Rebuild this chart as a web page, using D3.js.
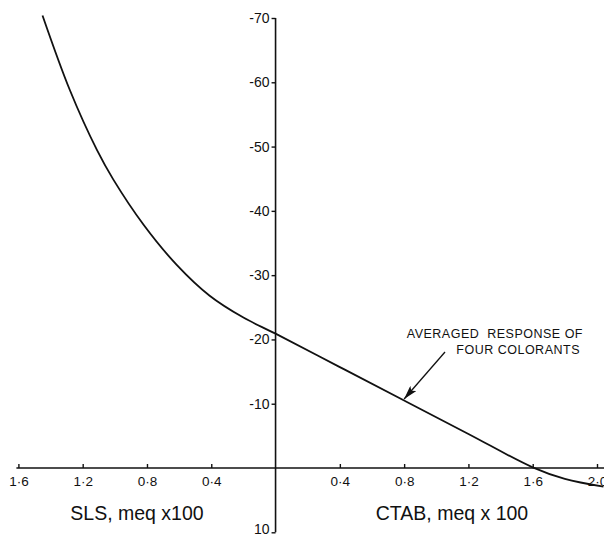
<!DOCTYPE html>
<html>
<head>
<meta charset="utf-8">
<script src="https://cdn.jsdelivr.net/npm/d3@7"></script>
<style>
  body { margin: 0; background: #fff; }
  svg { display: block; }
  .axis text { font-family: 'Liberation Sans', sans-serif; fill: #111; }
</style>
</head>
<body>
<svg id="chart" width="604" height="535"></svg>
<script>
// concentration (SLS to the left as negative, CTAB to the right), meq x 100
const conc = [-1.45, -1.28, -1.11, -1.01, -0.82, -0.615, -0.41, -0.2, 0, 0.4, 0.8, 1.2, 1.6, 1.8, 2.04]
// averaged response of four colorants
const response = [-70.4, -58.8, -49.4, -44.9, -37.8, -31.6, -26.8, -23.4, -20.9, -15.7, -10.5, -5.3, -0.1, 1.7, 2.9]

const xTicks = [-1.6, -1.2, -0.8, -0.4, 0.4, 0.8, 1.2, 1.6, 2.0]
const yTicks = [-70, -60, -50, -40, -30, -20, -10, 10]

const svg = d3.select('#chart')

const x = d3.scaleLinear().domain([-1.6, 2.0]).range([18.4, 597])
const y = d3.scaleLinear().domain([10, -70]).range([532.3, 18])

const ink = '#111'
const fmtX = (d) => Math.abs(d).toFixed(1).replace('.', '·')

// horizontal axis
const xAxis = svg
  .append('g')
  .classed('axis', true)
  .attr('transform', `translate(0 ${y(0)})`)
  .call(
    d3
      .axisBottom(x)
      .tickValues(xTicks)
      .tickFormat(fmtX)
      .tickSizeInner(-4)
      .tickSizeOuter(0)
      .tickPadding(8)
  )
xAxis.select('.domain').remove()
xAxis.selectAll('.tick line').attr('stroke', ink).attr('stroke-width', 1.4)
xAxis.selectAll('.tick text').attr('font-size', 13.5)

svg
  .append('line')
  .attr('x1', x(-1.6) - 2)
  .attr('x2', 604)
  .attr('y1', y(0))
  .attr('y2', y(0))
  .attr('stroke', ink)
  .attr('stroke-width', 1.5)

// vertical axis
const yAxis = svg
  .append('g')
  .classed('axis', true)
  .attr('transform', `translate(${x(0)} 0)`)
  .call(
    d3
      .axisLeft(y)
      .tickValues(yTicks)
      .tickFormat((d) => String(d))
      .tickSizeInner(4)
      .tickSizeOuter(0)
      .tickPadding(2)
  )
yAxis.select('.domain').remove()
yAxis.selectAll('.tick line').attr('stroke', ink).attr('stroke-width', 1.4)
yAxis.selectAll('.tick text').attr('font-size', 14)
yAxis
  .selectAll('.tick')
  .filter((d) => d === 10)
  .select('text')
  .attr('dy', '0.05em')

svg
  .append('line')
  .attr('x1', x(0))
  .attr('x2', x(0))
  .attr('y1', y(-70))
  .attr('y2', y(10))
  .attr('stroke', ink)
  .attr('stroke-width', 1.6)

// curve
const line = d3
  .line()
  .x((d, i) => x(conc[i]))
  .y((d) => y(d))
  .curve(d3.curveCatmullRom)

svg
  .append('path')
  .datum(response)
  .attr('fill', 'none')
  .attr('stroke', ink)
  .attr('stroke-width', 1.8)
  .attr('d', line)

// axis titles
const titleFont = "'Liberation Sans', sans-serif"
svg
  .append('text')
  .attr('x', 137)
  .attr('y', 520)
  .attr('text-anchor', 'middle')
  .attr('font-family', titleFont)
  .attr('font-size', 19.5)
  .attr('fill', ink)
  .text('SLS, meq x100')

svg
  .append('text')
  .attr('x', 452)
  .attr('y', 520)
  .attr('text-anchor', 'middle')
  .attr('font-family', titleFont)
  .attr('font-size', 19.5)
  .attr('fill', ink)
  .text('CTAB, meq x 100')

// annotation
const note = svg
  .append('text')
  .attr('text-anchor', 'end')
  .attr('font-family', titleFont)
  .attr('font-size', 12.5)
  .attr('letter-spacing', 0.5)
  .attr('fill', ink)
  .attr('xml:space', 'preserve')
note.append('tspan').attr('x', 583).attr('y', 338).text('AVERAGED  RESPONSE OF')
note.append('tspan').attr('x', 580).attr('y', 354).text('FOUR COLORANTS')

svg
  .append('defs')
  .append('marker')
  .attr('id', 'head')
  .attr('viewBox', '0 0 14 8')
  .attr('refX', 14)
  .attr('refY', 4)
  .attr('markerWidth', 14)
  .attr('markerHeight', 8)
  .attr('markerUnits', 'userSpaceOnUse')
  .attr('orient', 'auto')
  .append('path')
  .attr('d', 'M0,0 L14,4 L0,8 L3,4 Z')
  .attr('fill', ink)

svg
  .append('line')
  .attr('x1', 445)
  .attr('y1', 352)
  .attr('x2', x(0.8))
  .attr('y2', y(-10.5) - 1.5)
  .attr('stroke', ink)
  .attr('stroke-width', 1.3)
  .attr('marker-end', 'url(#head)')
</script>
</body>
</html>
